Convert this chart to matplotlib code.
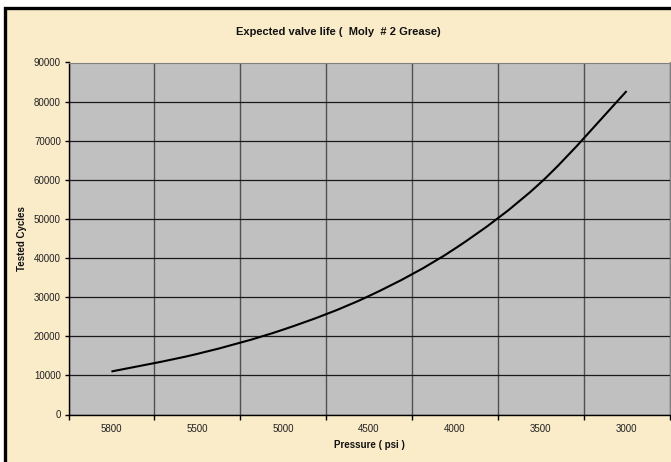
import numpy as np
import matplotlib
matplotlib.use('Agg')
import matplotlib.pyplot as plt
from matplotlib.path import Path
from matplotlib.patches import PathPatch, Rectangle

# ----------------------------------------------------------------------
# Data
# ----------------------------------------------------------------------

pressure_labels = ['5800', '5500', '5000', '4500', '4000', '3500', '3000']
tested_cycles = [11000, 15500, 21700, 30300, 42400, 59300, 82700]

y_ticks = list(range(0, 90001, 10000))

title = 'Expected valve life (  Moly  # 2 Grease)'
xlabel = 'Pressure ( psi )'
ylabel = 'Tested Cycles'

plt.rcParams['font.family'] = ['Liberation Sans', 'DejaVu Sans']

bg_color = '#faebc9'
plot_color = '#c0c0c0'


def smooth_path(xs, ys):
    """ Excel style smoothed line: cubic bezier through every point """
    pts = np.column_stack([xs, ys]).astype(float)
    n = len(pts)
    verts = [pts[0]]
    codes = [Path.MOVETO]
    for i in range(n - 1):
        p0 = pts[max(i - 1, 0)]
        p1 = pts[i]
        p2 = pts[i + 1]
        p3 = pts[min(i + 2, n - 1)]
        c1 = p1 + (p2 - p0) / 6.0
        c2 = p2 - (p3 - p1) / 6.0
        verts += [c1, c2, p2]
        codes += [Path.CURVE4] * 3
    return Path(verts, codes)


fig = plt.figure(figsize=(6.71, 4.62), dpi=100)
fig.patch.set_facecolor('white')

# chart frame (black border, cut off at right and bottom)
frame = Rectangle((5 / 671, -0.1), 1.2, (462 - 8.0) / 462 + 0.1,
                  transform=fig.transFigure, facecolor=bg_color,
                  edgecolor='black', linewidth=2.4, zorder=-10)
fig.patches.append(frame)

ax = fig.add_axes([68.5 / 671, 1 - 414.5 / 462,
                   (669.5 - 68.5) / 671, (414.5 - 62.5) / 462])
ax.set_zorder(1)
ax.set_facecolor(plot_color)

x = np.arange(len(pressure_labels))
ax.set_xlim(-0.5, len(pressure_labels) - 0.5)
ax.set_ylim(0, 90000)

# horizontal gridlines
ax.set_yticks(y_ticks)
ax.set_yticklabels([str(v) for v in y_ticks])
ax.yaxis.grid(True, color='#1a1a1a', linewidth=0.9)

# category axis: labels at centres, ticks / gridlines between categories
ax.set_xticks(x)
ax.set_xticklabels(pressure_labels)
ax.set_xticks(np.arange(len(pressure_labels) + 1) - 0.5, minor=True)
ax.xaxis.grid(True, which='minor', color='#505050', linewidth=1.0)
ax.tick_params(axis='x', which='major', length=0, pad=6.5,
               labelsize=7, labelcolor='#222222')
ax.tick_params(axis='x', which='minor', length=3.5, width=1.0,
               color='black', direction='out')
ax.tick_params(axis='y', which='major', length=3, width=1.0,
               color='black', direction='out', pad=2.5,
               labelsize=7, labelcolor='#222222')
ax.set_axisbelow(True)

for side in ['top', 'right']:
    ax.spines[side].set_color('#808080')
    ax.spines[side].set_linewidth(0.8)
for side in ['left', 'bottom']:
    ax.spines[side].set_color('black')
    ax.spines[side].set_linewidth(1.0)

curve = PathPatch(smooth_path(x, tested_cycles), facecolor='none',
                  edgecolor='black', linewidth=1.5, zorder=3,
                  capstyle='butt')
ax.add_patch(curve)

ax.set_xlabel(xlabel, fontsize=7, fontweight='bold', labelpad=5,
              color='#111111')
ax.set_ylabel(ylabel, fontsize=7, fontweight='bold', labelpad=5,
              color='#111111')

fig.text(338 / 671, 1 - 32 / 462, title, ha='center', va='center',
         fontsize=8, fontweight='bold', color='#111111')

plt.savefig('out.png', dpi=100, facecolor=fig.get_facecolor())
plt.close()
